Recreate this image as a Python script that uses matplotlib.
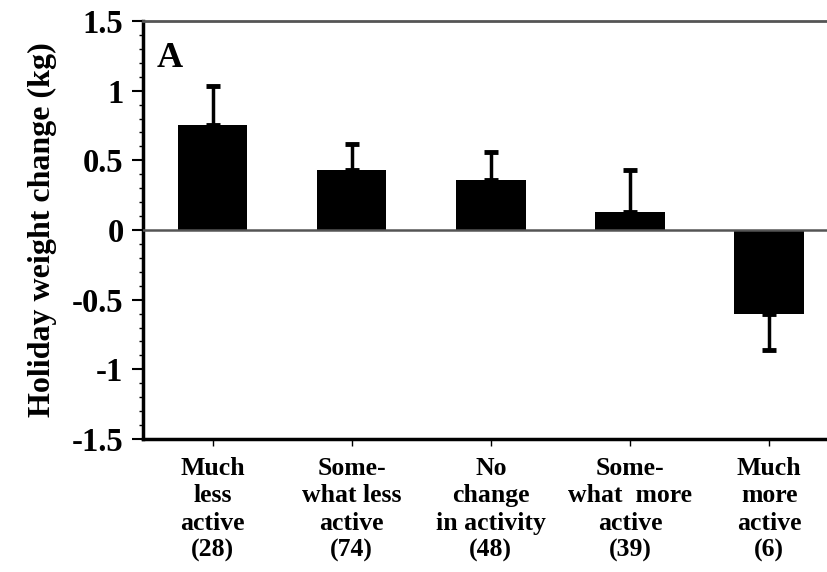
import matplotlib
matplotlib.use("Agg")
import matplotlib.pyplot as plt
from matplotlib.ticker import MultipleLocator

categories = ["Much\nless\nactive\n(28)", "Some-\nwhat less\nactive\n(74)",
              "No\nchange\nin activity\n(48)", "Some-\nwhat  more\nactive\n(39)",
              "Much\nmore\nactive\n(6)"]
means = [0.75, 0.43, 0.36, 0.13, -0.60]
errors = [0.28, 0.19, 0.20, 0.30, 0.26]
ytick_values = [-1.5, -1, -0.5, 0, 0.5, 1, 1.5]
ytick_labels = ["-1.5", "-1", "-0.5", "0", "0.5", "1", "1.5"]

plt.rcParams['font.family'] = ['Liberation Serif', 'DejaVu Serif']
plt.rcParams['font.weight'] = 'bold'

fig = plt.figure(figsize=(8.28, 5.72), dpi=100)
ax = fig.add_axes([0.1727, 0.2325, 1.0128 - 0.1727, 0.9633 - 0.2325])

x = list(range(len(means)))
ax.bar(x, means, width=0.5, color='black', zorder=3)
lower = [0 if m >= 0 else e for m, e in zip(means, errors)]
upper = [e if m >= 0 else 0 for m, e in zip(means, errors)]
ax.errorbar(x, means, yerr=[lower, upper], fmt='none', ecolor='black',
            elinewidth=2.5, capsize=5, capthick=3.5, zorder=2)

ax.axhline(0, color='#555555', lw=1.8, zorder=4)

ax.set_xlim(-0.5, 4.5)
ax.set_ylim(-1.5, 1.5)
ax.yaxis.set_minor_locator(MultipleLocator(0.1))
ax.set_yticks(ytick_values)
ax.set_yticklabels(ytick_labels, fontsize=23.5, fontweight='bold')
ax.set_xticks(x)
ax.set_xticklabels(categories, fontsize=18.5, fontweight='bold', linespacing=1.24)

ax.tick_params(axis='y', which='major', direction='out', length=8, width=1.5, pad=6)
ax.tick_params(axis='y', which='minor', direction='out', length=3, width=1)
ax.tick_params(axis='x', which='major', direction='out', length=5, width=1, pad=8)

ax.spines['left'].set_linewidth(2.5)
ax.spines['bottom'].set_linewidth(2.5)
ax.spines['top'].set_linewidth(2)
ax.spines['top'].set_color('#555555')
ax.spines['right'].set_visible(False)

ax.set_ylabel("Holiday weight change (kg)", fontsize=23, fontweight='bold', labelpad=11)
ax.text(0.02, 0.95, "A", transform=ax.transAxes, fontsize=26, fontweight='bold',
        va='top', ha='left')

fig.savefig("out.png", dpi=100)
